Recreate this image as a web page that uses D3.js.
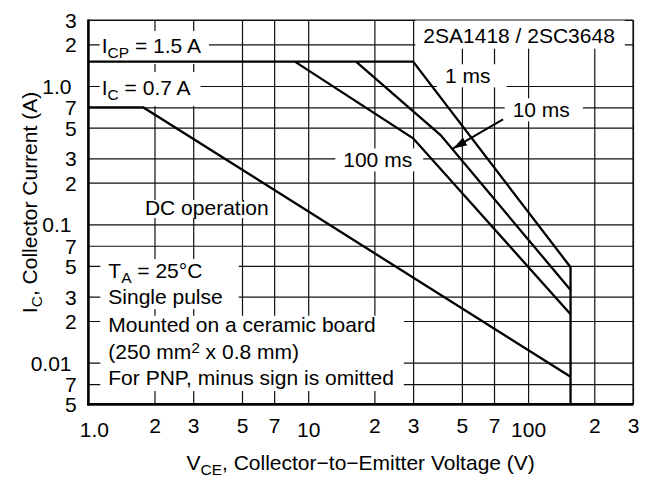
<!DOCTYPE html>
<html><head><meta charset="utf-8">
<script src="https://cdn.jsdelivr.net/npm/d3@7"></script>
<style>body{margin:0;background:#fff}svg{display:block}</style>
</head><body>
<svg id="c" width="652" height="481"></svg>
<script>
// ---- data ----
const xTicks = [1, 2, 3, 5, 7, 10, 20, 30, 50, 70, 100, 200, 300];
const xTickLabels = ["1.0", "2", "3", "5", "7", "10", "2", "3", "5", "7", "100", "2", "3"];
const yTicks = [0.005, 0.007, 0.01, 0.02, 0.03, 0.05, 0.07, 0.1, 0.2, 0.3, 0.5, 0.7, 1, 2, 3];
const yTickLabels = ["5", "7", "0.01", "2", "3", "5", "7", "0.1", "2", "3", "5", "7", "1.0", "2", "3"];
const decadeTicks = [0.01, 0.1, 1, 10, 100];

// SOA boundaries: [V_CE (V), I_C (A)]
const curveDC    = [[1, 0.7], [1.78, 0.7], [156, 0.0079]];
const curve100ms = [[8.7, 1.5], [30, 0.419], [156, 0.0224]];
const curve10ms  = [[16.5, 1.5], [40, 0.442], [156, 0.0335]];
const curve1ms   = [[1, 1.5], [30, 1.5], [156, 0.049], [156, 0.005]];
const arrow10ms  = [[76.9, 0.574], [45.6, 0.354]];

// ---- layout ----
const svg = d3.select("#c");
const L = 88.3, R = 633, T = 20, B = 404.3;
const x = d3.scaleLog().domain([1, 300]).range([L, R]);
const y = d3.scaleLog().domain([0.005, 3]).range([B, T]);
const FONT = "'Liberation Sans', Arial, Helvetica, sans-serif";
const FS = 21, SUB = 15.5;

svg.append("rect").attr("width", 652).attr("height", 481).attr("fill", "#fff");
const gGrid = svg.append("g");
const gBox = svg.append("g");
const gCurve = svg.append("g");
const gFrame = svg.append("g");
const gText = svg.append("g").attr("font-family", FONT).attr("font-size", FS).attr("fill", "#000");

// grid via axes
gGrid.append("g").attr("transform", `translate(0,${B})`)
  .call(d3.axisBottom(x).tickValues(xTicks).tickSize(-(B - T)).tickFormat(""))
  .call(g => g.select(".domain").remove())
  .call(g => g.selectAll("line").attr("stroke", "#111").attr("stroke-width", 1.2));
gGrid.append("g").attr("transform", `translate(${L},0)`)
  .call(d3.axisLeft(y).tickValues(yTicks).tickSize(-(R - L)).tickFormat(""))
  .call(g => g.select(".domain").remove())
  .call(g => g.selectAll("line").attr("stroke", "#111").attr("stroke-width", 1.2));

// tick labels via axes
const xa = gText.append("g").attr("transform", `translate(0,${B})`)
  .call(d3.axisBottom(x).tickValues(xTicks).tickSize(0)
    .tickFormat((d, i) => xTickLabels[i]));
xa.select(".domain").remove();
xa.selectAll("text").attr("font-family", FONT).attr("font-size", FS).attr("fill", "#000")
  .attr("y", null).attr("dy", null)
  .attr("y", d => decadeTicks.includes(d) ? 32.4 : 28.4)
  .attr("dx", d => d === 1 ? 5.5 : 0);

const ya = gText.append("g").attr("transform", `translate(${L},0)`)
  .call(d3.axisLeft(y).tickValues(yTicks).tickSize(0)
    .tickFormat((d, i) => yTickLabels[i]));
ya.select(".domain").remove();
ya.selectAll("text").attr("font-family", FONT).attr("font-size", FS).attr("fill", "#000")
  .attr("x", d => decadeTicks.includes(d) ? -16.8 : -11.6)
  .attr("dy", "0.36em");

// text helper
function rich(parent, parts, attrs) {
  const t = parent.append("text");
  Object.entries(attrs || {}).forEach(([k, v]) => t.attr(k, v));
  parts.forEach(p => {
    const s = t.append("tspan").text(p.t);
    if (p.sub) s.attr("font-size", SUB).attr("dy", 5);
    if (p.sup) s.attr("font-size", SUB).attr("dy", -6);
    if (p.back) s.attr("dy", p.back);
  });
  return t;
}

// annotations anchored in data coordinates: [V, I] = left/baseline
const labels = [
  { at: [1.151, 1.732], parts: [{t: "I"}, {t: "CP", sub: true}, {t: " = 1.5 A", back: -5}], pad: [2, 8, 3, 3] },
  { at: [1.151, 0.860], parts: [{t: "I"}, {t: "C", sub: true}, {t: " = 0.7 A", back: -5}], pad: [2, 10, 4, 3] },
  { at: [33.4, 2.056], parts: [{t: "2SA1418 / 2SC3648"}], pad: [8, 10, 4, 2] },
  { at: [41.9, 1.046], parts: [{t: "1 ms"}], pad: [8, 16, 0, 0] },
  { at: [85.1, 0.594], parts: [{t: "10 ms"}], pad: [8, 13, 0, 0] },
  { at: [14.44, 0.258], parts: [{t: "100 ms"}], pad: [8, 11, 0, 0] },
  { at: [1.81, 0.1167], parts: [{t: "DC operation"}], pad: [5, 5, -4, -1] }
];
labels.forEach(l => {
  const t = rich(gText, l.parts, { x: x(l.at[0]), y: y(l.at[1]) });
  const b = t.node().getBBox();
  gBox.append("rect").attr("x", b.x - l.pad[0]).attr("y", b.y - l.pad[2])
    .attr("width", b.width + l.pad[0] + l.pad[1]).attr("height", b.height + l.pad[2] + l.pad[3])
    .attr("fill", "#fff");
});

// notes block, two groups with their own knock-out boxes
const notes = [
  { group: 0, at: [1.233, 0.0409], parts: [{t: "T"}, {t: "A", sub: true}, {t: " = 25°C", back: -5}] },
  { group: 0, at: [1.233, 0.02651], parts: [{t: "Single pulse"}] },
  { group: 1, at: [1.233, 0.01672], parts: [{t: "Mounted on a ceramic board"}] },
  { group: 1, at: [1.233, 0.01056], parts: [{t: "(250 mm"}, {t: "2", sup: true}, {t: " x 0.8 mm)", back: 6}] },
  { group: 1, at: [1.233, 0.00689], parts: [{t: "For PNP, minus sign is omitted"}] }
];
const groupPad = [[8, 16, 0, 1], [8, 10, -3, 2]];
const gb = [null, null];
notes.forEach(n => {
  const t = rich(gText, n.parts, { x: x(n.at[0]), y: y(n.at[1]) });
  const b = t.node().getBBox();
  const g = gb[n.group];
  if (!g) gb[n.group] = { x0: b.x, y0: b.y, x1: b.x + b.width, y1: b.y + b.height };
  else {
    g.x0 = Math.min(g.x0, b.x); g.y0 = Math.min(g.y0, b.y);
    g.x1 = Math.max(g.x1, b.x + b.width); g.y1 = Math.max(g.y1, b.y + b.height);
  }
});
gb.forEach((g, i) => {
  const p = groupPad[i];
  gBox.append("rect").attr("x", g.x0 - p[0]).attr("y", g.y0 - p[2])
    .attr("width", g.x1 - g.x0 + p[0] + p[1]).attr("height", g.y1 - g.y0 + p[2] + p[3])
    .attr("fill", "#fff");
});

// curves
const line = d3.line().x(d => x(d[0])).y(d => y(d[1]));
[curveDC, curve100ms, curve10ms, curve1ms].forEach(c => {
  gCurve.append("path").attr("d", line(c)).attr("fill", "none")
    .attr("stroke", "#000").attr("stroke-width", 2.3).attr("stroke-linejoin", "miter");
});

// arrow
svg.append("defs").append("marker").attr("id", "ah")
  .attr("viewBox", "0 0 14 10").attr("refX", 14).attr("refY", 5)
  .attr("markerWidth", 14).attr("markerHeight", 10).attr("markerUnits", "userSpaceOnUse")
  .attr("orient", "auto")
  .append("path").attr("d", "M0,0.5 L14,5 L0,9.5 Z").attr("fill", "#000");
gCurve.append("path").attr("d", line(arrow10ms)).attr("fill", "none")
  .attr("stroke", "#000").attr("stroke-width", 2).attr("marker-end", "url(#ah)");

// frame
gFrame.append("line").attr("x1", L).attr("x2", R).attr("y1", T).attr("y2", T).attr("stroke", "#111").attr("stroke-width", 1.2);
gFrame.append("line").attr("x1", R).attr("x2", R).attr("y1", T).attr("y2", B).attr("stroke", "#111").attr("stroke-width", 1.2);
gFrame.append("line").attr("x1", L).attr("x2", L).attr("y1", T - 0.6).attr("y2", B + 1.2).attr("stroke", "#000").attr("stroke-width", 2.4);
gFrame.append("line").attr("x1", L - 1.2).attr("x2", R + 0.6).attr("y1", B).attr("y2", B).attr("stroke", "#000").attr("stroke-width", 2.4);

// axis titles
rich(gText, [{t: "V"}, {t: "CE", sub: true}, {t: ", Collector\u2212to\u2212Emitter Voltage (V)", back: -5}],
  { x: (L + R) / 2, y: 470, "text-anchor": "middle" });
rich(gText, [{t: "I"}, {t: "C", sub: true}, {t: ", Collector Current (A)", back: -5}],
  { transform: "translate(36.7,202.5) rotate(-90)", "text-anchor": "middle" });
</script>
</body></html>
